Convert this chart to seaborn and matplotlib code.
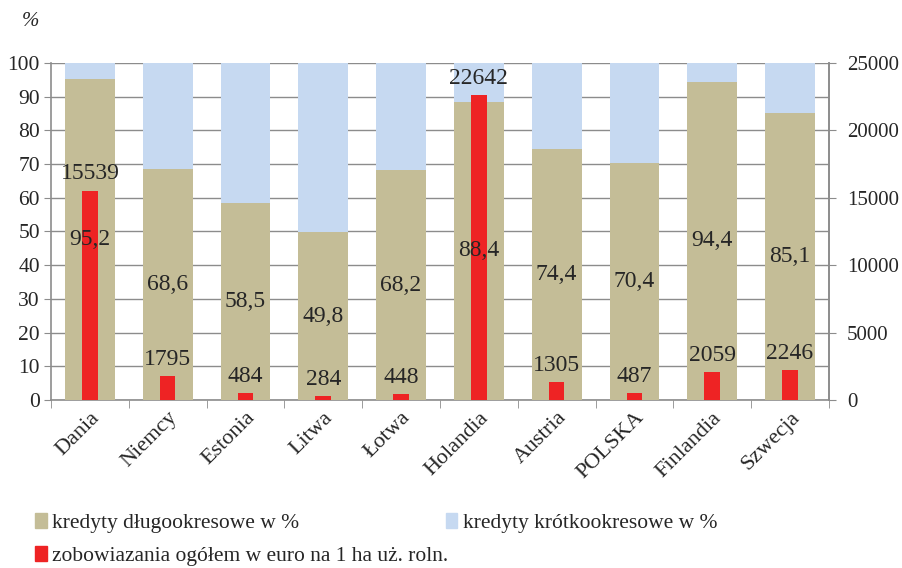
import matplotlib
matplotlib.use("Agg")
import matplotlib.pyplot as plt
from matplotlib.patches import Patch
from matplotlib.ticker import FixedLocator
import seaborn as sns
import pandas as pd

countries = ["Dania", "Niemcy", "Estonia", "Litwa", "Łotwa", "Holandia",
             "Austria", "POLSKA", "Finlandia", "Szwecja"]
long_term = [95.2, 68.6, 58.5, 49.8, 68.2, 88.4, 74.4, 70.4, 94.4, 85.1]
short_term = [round(100 - v, 1) for v in long_term]
debt_per_ha = [15539, 1795, 484, 284, 448, 22642, 1305, 487, 2059, 2246]

tan = "#C4BD97"
blue = "#C6D9F1"
red = "#EE2324"
grid_c = "#8C8C8C"

sns.set_style("white")
plt.rcParams["font.family"] = ["Liberation Serif", "DejaVu Serif"]

df = pd.DataFrame({"kraj": countries, "long": long_term,
                   "total": [a + b for a, b in zip(long_term, short_term)],
                   "debt": debt_per_ha})

fig = plt.figure(figsize=(9.02, 5.68), dpi=100)
ax = fig.add_axes([0.0565, 0.296, 0.8625, 0.593])

sns.barplot(data=df, x="kraj", y="total", color=blue, saturation=1,
            width=0.64, linewidth=0, ax=ax, zorder=2)
sns.barplot(data=df, x="kraj", y="long", color=tan, saturation=1,
            width=0.64, linewidth=0, ax=ax, zorder=3)

ax.set_ylim(0, 100)
ax.set_xlim(-0.5, len(countries) - 0.5)
ax.set_yticks(range(0, 101, 10))
ax.yaxis.grid(True, color=grid_c, linewidth=1, zorder=0)
ax.set_axisbelow(True)
ax.set_xlabel("")
ax.set_ylabel("")
ax.tick_params(axis="y", labelsize=15.5, direction="out", length=5,
               color=grid_c, left=True, pad=3)
ax.set_xticks(range(len(countries)))
ax.set_xticklabels(countries, rotation=45, ha="right",
                   rotation_mode="anchor", fontsize=16)
ax.tick_params(axis="x", which="major", length=0, pad=6)
ax.xaxis.set_minor_locator(FixedLocator([i - 0.5 for i in range(len(countries) + 1)]))
ax.tick_params(axis="x", which="minor", length=6, color=grid_c, bottom=True,
               direction="out")
for s in ["left", "bottom", "right"]:
    ax.spines[s].set_color(grid_c)
    ax.spines[s].set_linewidth(1.2)
ax.spines["top"].set_visible(False)

ax2 = ax.twinx()
sns.barplot(data=df, x="kraj", y="debt", color=red, saturation=1,
            width=0.2, linewidth=0, ax=ax2, zorder=4)
ax2.set_ylim(0, 25000)
ax2.set_yticks(range(0, 25001, 5000))
ax2.set_ylabel("")
ax2.tick_params(axis="y", labelsize=15, direction="out", length=5,
                color=grid_c, right=True, pad=8)
ax2.set_xlim(-0.5, len(countries) - 0.5)
for s in ["left", "bottom", "top"]:
    ax2.spines[s].set_visible(False)
ax2.spines["right"].set_color(grid_c)
ax2.spines["right"].set_linewidth(1.2)

# etykiety procentowe nad czerwonymi słupkami
for i, v in enumerate(long_term):
    ax2.text(i, v / 2, f"{v:.1f}".replace(".", ","), ha="center", va="center",
             fontsize=17, zorder=6, transform=ax.transData)
for i, v in enumerate(debt_per_ha):
    ax2.text(i, v + 450, str(v), ha="center", va="bottom", fontsize=17, zorder=6)

fig.text(0.024, 0.963, "%", fontsize=15, style="italic", va="center")

leg_kw = dict(loc="upper left", frameon=False, fontsize=15.5,
              handlelength=0.55, handleheight=0.7, handletextpad=0.25,
              labelspacing=0.6, borderaxespad=0, borderpad=0)
leg1 = fig.legend(handles=[Patch(color=tan, label="kredyty długookresowe w %"),
                           Patch(color=red, label="zobowiazania ogółem w euro na 1 ha uż. roln.")],
                  bbox_to_anchor=(0.039, 0.097), **leg_kw)
fig.legend(handles=[Patch(color=blue, label="kredyty krótkookresowe w %")],
           bbox_to_anchor=(0.494, 0.097), **leg_kw)

fig.savefig("out.png", dpi=100)
